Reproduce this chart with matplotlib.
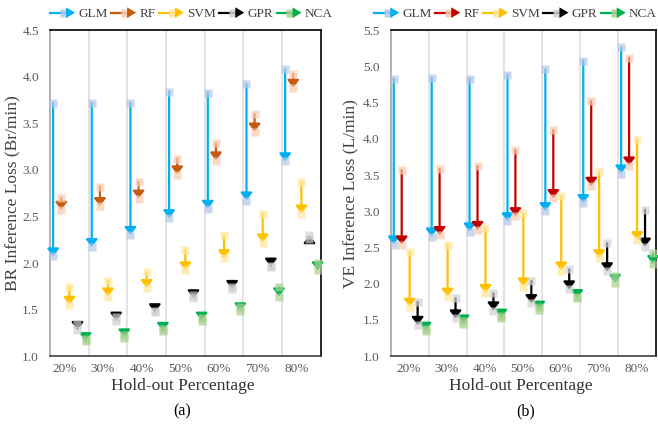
import matplotlib
matplotlib.use("Agg")
import matplotlib.pyplot as plt
import numpy as np
from matplotlib.lines import Line2D
from matplotlib.patches import Polygon
from matplotlib.legend_handler import HandlerBase

plt.rcParams['font.family'] = ['Liberation Serif', 'DejaVu Serif']

cats = ['20%', '30%', '40%', '50%', '60%', '70%', '80%']
models = ['GLM', 'RF', 'SVM', 'GPR', 'NCA']

# BR inference loss: arrow goes from start to end
glm_br_start = [3.72, 3.72, 3.72, 3.84, 3.83, 3.92, 4.08]
glm_br_end = [2.07, 2.17, 2.30, 2.48, 2.58, 2.67, 3.09]
rf_br_start = [2.70, 2.82, 2.87, 3.12, 3.29, 3.60, 4.03]
rf_br_end = [2.57, 2.61, 2.69, 2.95, 3.10, 3.41, 3.88]
svm_br_start = [1.74, 1.81, 1.90, 2.14, 2.30, 2.53, 2.87]
svm_br_end = [1.55, 1.64, 1.73, 1.92, 2.05, 2.22, 2.53]
gpr_br_start = [1.35, 1.42, 1.49, 1.66, 1.74, 1.97, 2.26]
gpr_br_end = [1.28, 1.38, 1.47, 1.62, 1.72, 1.96, 2.30]
nca_br_start = [1.18, 1.23, 1.29, 1.41, 1.53, 1.74, 2.00]
nca_br_end = [1.16, 1.20, 1.27, 1.38, 1.48, 1.64, 1.92]

# VE inference loss
glm_ve_start = [4.83, 4.84, 4.83, 4.88, 4.96, 5.08, 5.26]
glm_ve_end = [2.54, 2.65, 2.72, 2.86, 3.00, 3.11, 3.52]
rf_ve_start = [3.57, 3.58, 3.62, 3.85, 4.12, 4.52, 5.12]
rf_ve_end = [2.54, 2.67, 2.74, 2.93, 3.18, 3.35, 3.63]
svm_ve_start = [2.44, 2.54, 2.77, 2.97, 3.21, 3.55, 3.99]
svm_ve_end = [1.68, 1.82, 1.87, 1.96, 2.18, 2.35, 2.60]
gpr_ve_start = [1.75, 1.80, 1.87, 2.04, 2.20, 2.56, 3.02]
gpr_ve_end = [1.43, 1.52, 1.63, 1.73, 1.92, 2.17, 2.51]
nca_ve_start = [1.38, 1.48, 1.56, 1.68, 1.82, 2.10, 2.42]
nca_ve_end = [1.35, 1.45, 1.53, 1.64, 1.80, 2.01, 2.27]

br = [(glm_br_start, glm_br_end), (rf_br_start, rf_br_end), (svm_br_start, svm_br_end),
      (gpr_br_start, gpr_br_end), (nca_br_start, nca_br_end)]
ve = [(glm_ve_start, glm_ve_end), (rf_ve_start, rf_ve_end), (svm_ve_start, svm_ve_end),
      (gpr_ve_start, gpr_ve_end), (nca_ve_start, nca_ve_end)]

colors_a = ['#00B0F0', '#C55A11', '#FFC000', '#000000', '#00B050']
colors_b = ['#00B0F0', '#C00000', '#FFC000', '#000000', '#00B050']
lights = ['#B4C7E7', '#F8CBAD', '#FFE699', '#D0D0D0', '#A9D18E']

offsets = [0.08, 0.29, 0.50, 0.71, 0.92]


class Key:
    def __init__(self, color, light):
        self.color = color
        self.light = light


class KeyHandler(HandlerBase):
    def create_artists(self, legend, h, xdescent, ydescent, width, height, fontsize, trans):
        y = height / 2 - ydescent
        x0 = -xdescent
        x1 = x0 + width
        hl, hw = 6.5, 3.8
        line = Line2D([x0, x1 - hl], [y, y], color=h.color, lw=1.6)
        sq = Line2D([x0 + width * 0.55], [y], marker='s', ms=6, color=h.light,
                    mec='none', alpha=0.85, ls='none')
        head = Polygon([[x1 - hl, y - hw], [x1, y], [x1 - hl, y + hw]], closed=True,
                       fc=h.color, ec='none')
        for a in (line, sq, head):
            a.set_transform(trans)
        return [line, sq, head]


fig = plt.figure(figsize=(6.58, 4.24), dpi=100)
ax_a = fig.add_axes([0.076, 0.160, 0.4114, 0.769])
ax_b = fig.add_axes([0.5938, 0.160, 0.4032, 0.769])


def draw(ax, data, colors, ymax, label_off, leg_loc, leg_x):
    for j, (start, end) in enumerate(data):
        xs = np.arange(len(cats)) + offsets[j]
        for x, s, e in zip(xs, start, end):
            ax.annotate('', xy=(x, e), xytext=(x, s),
                        arrowprops=dict(arrowstyle='-|>,head_length=0.45,head_width=0.34',
                                        color=colors[j], lw=1.6, shrinkA=0, shrinkB=0,
                                        mutation_scale=10), zorder=3)
        ax.plot(xs, start, 's', ms=6, color=lights[j], mec='none', alpha=0.7, zorder=4)
        ax.plot(xs, end, 's', ms=6, color=lights[j], mec='none', alpha=0.7, zorder=4)

    ax.set_xlim(0, len(cats))
    ax.set_ylim(1.0, ymax)
    ax.set_yticks(np.arange(1.0, ymax + 0.01, 0.5))
    ax.yaxis.set_major_formatter(matplotlib.ticker.FormatStrFormatter('%.1f'))
    ax.set_xticks(np.arange(len(cats)) + label_off)
    ax.set_xticklabels(cats)
    for g in range(1, len(cats)):
        ax.axvline(g, color='#E2E2E2', lw=1.3, zorder=1)
    ax.tick_params(length=0, labelsize=9.5, labelcolor='#595959')
    ax.tick_params(axis='y', pad=8)
    ax.tick_params(axis='x', pad=5)
    ax.spines['left'].set_color('#A6A6A6')
    ax.spines['bottom'].set_color('#404040')
    for s in ['top', 'right']:
        ax.spines[s].set_color('black')
    for s in ax.spines.values():
        s.set_linewidth(1.2)
    ax.set_xlabel('Hold-out Percentage', fontsize=12.5, color='#333333')
    ax.xaxis.set_label_coords(0.49, -0.066)

    keys = [Key(c, l) for c, l in zip(colors, lights)]
    ax.legend(keys, models, handler_map={Key: KeyHandler()}, ncol=5, loc=leg_loc,
              bbox_to_anchor=(leg_x, 1.049), frameon=False, fontsize=9.5,
              handlelength=1.9, handletextpad=0.25, columnspacing=0.25,
              borderpad=0, borderaxespad=0, labelcolor='#404040')


draw(ax_a, br, colors_a, 4.5, 0.37, 'center left', 0.0)
draw(ax_b, ve, colors_b, 5.5, 0.48, 'center right', 1.004)

ax_a.set_ylabel('BR Inference Loss (Br/min)', fontsize=12.5, color='#404040')
ax_a.yaxis.set_label_coords(-0.105, 0.5)
ax_b.set_ylabel('VE Inference Loss (L/min)', fontsize=12.5, color='#404040')
ax_b.yaxis.set_label_coords(-0.118, 0.5)

fig.text(182 / 658, 1 - 411 / 424, '(a)', ha='center', va='center', fontsize=11.5)
fig.text(526 / 658, 1 - 411 / 424, '(b)', ha='center', va='center', fontsize=11.5)

fig.savefig('out.png', dpi=100)
